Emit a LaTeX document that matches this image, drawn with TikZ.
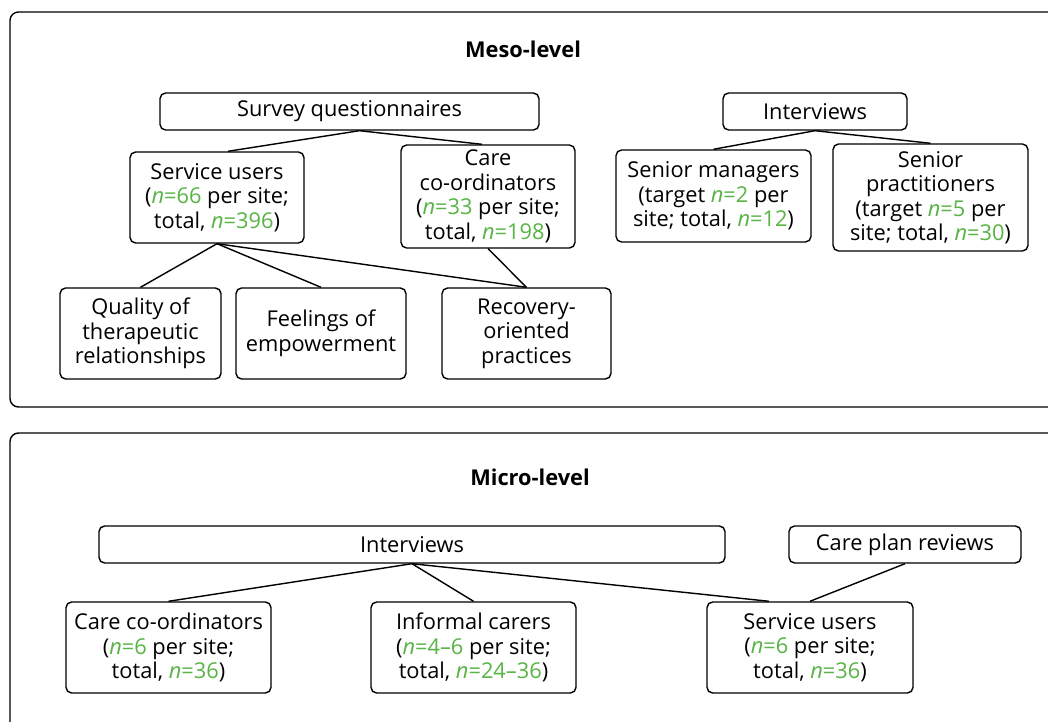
\documentclass[tikz,border=0pt]{standalone}
\usepackage{fontspec}
\setmainfont{Open Sans}
\usepackage{xcolor}
\usepackage{tikz}
\definecolor{ngreen}{RGB}{88,180,68}
\newcommand{\nval}[1]{\textcolor{ngreen}{\textit{n}=#1}}
\def\px{0.025cm}

\begin{document}
\begin{tikzpicture}[x=0.025cm,y=-0.025cm,line width=1pt,
    font=\fontsize{15.5}{17.4}\selectfont]
\tikzset{
    levelframe/.style = {draw=black, rounded corners=6pt},
    leveltitle/.style = {font=\fontsize{15.5}{17.4}\selectfont\bfseries},
    infobox/.style = {rectangle, rounded corners=4pt, draw=black, align=center, inner sep=1pt, fill=white},
    link/.style = {draw=black, line width=1pt}
}
\useasboundingbox (0,0) rectangle (1048,722);
\clip (0,0) rectangle (1048,722);

% meso level
\draw [levelframe] (10,12) rectangle (1070,407);
\node [leveltitle] (mesotitle) at (523,49) {Meso-level};

\node [infobox, minimum width=379*\px, minimum height=37*\px] (survey) at (349.5,111.5) {Survey questionnaires};
\node [infobox, minimum width=174*\px, minimum height=91*\px] (mesousers) at (217,197.5)
    {Service users\\(\nval{66} per site;\\total, \nval{396})};
\node [infobox, minimum width=174*\px, minimum height=103*\px] (mesocoord) at (488,196.5)
    {Care\\co-ordinators\\(\nval{33} per site;\\total, \nval{198})};
\node [infobox, minimum width=161*\px, minimum height=91*\px] (quality) at (140.5,333.5)
    {Quality of\\therapeutic\\relationships};
\node [infobox, minimum width=170*\px, minimum height=91*\px] (feelings) at (321,333.5)
    {Feelings of\\empowerment};
\node [infobox, minimum width=169*\px, minimum height=91*\px] (recovery) at (526.5,333.5)
    {Recovery-\\oriented\\practices};

\node [infobox, minimum width=184*\px, minimum height=37*\px] (mesointerv) at (815,111.5) {Interviews};
\node [infobox, minimum width=195*\px, minimum height=92*\px] (managers) at (713.5,196)
    {Senior managers\\(target \nval{2} per\\site; total, \nval{12})};
\node [infobox, minimum width=195*\px, minimum height=107*\px] (practitioners) at (930.5,197.5)
    {Senior\\practitioners\\(target \nval{5} per\\site; total, \nval{30})};

\draw [link] ([xshift=10*\px]survey.south) -- ([xshift=11*\px]mesousers.north);
\draw [link] ([xshift=10*\px]survey.south) -- ([xshift=-6*\px]mesocoord.north);
\draw [link] (mesousers.south) -- (quality.north);
\draw [link] (mesousers.south) -- (feelings.north);
\draw [link] (mesousers.south) -- (recovery.north);
\draw [link] (mesocoord.south) -- (recovery.north);
\draw [link] (mesointerv.south) -- (managers.north);
\draw [link] (mesointerv.south) -- (practitioners.north);

% micro level
\draw [levelframe] (10,433) rectangle (1070,760);
\node [leveltitle] (microtitle) at (530,477) {Micro-level};

\node [infobox, minimum width=626*\px, minimum height=37*\px] (microinterv) at (412,544.5) {Interviews};
\node [infobox, minimum width=232*\px, minimum height=37*\px] (careplan) at (905,544.5) {Care plan reviews};
\node [infobox, minimum width=205*\px, minimum height=91*\px] (microcoord) at (168.5,647.5)
    {Care co-ordinators\\(\nval{6} per site;\\total, \nval{36})};
\node [infobox, minimum width=205*\px, minimum height=91*\px] (carers) at (473.5,647.5)
    {Informal carers\\(\nval{4--6} per site;\\total, \nval{24--36})};
\node [infobox, minimum width=206*\px, minimum height=91*\px] (microusers) at (810,647.5)
    {Service users\\(\nval{6} per site;\\total, \nval{36})};

\draw [link] (microinterv.south) -- (microcoord.north);
\draw [link] (microinterv.south) -- (carers.north);
\draw [link] (microinterv.south) -- ([xshift=-41*\px]microusers.north);
\draw [link] (careplan.south) -- (microusers.north);
\end{tikzpicture}
\end{document}
